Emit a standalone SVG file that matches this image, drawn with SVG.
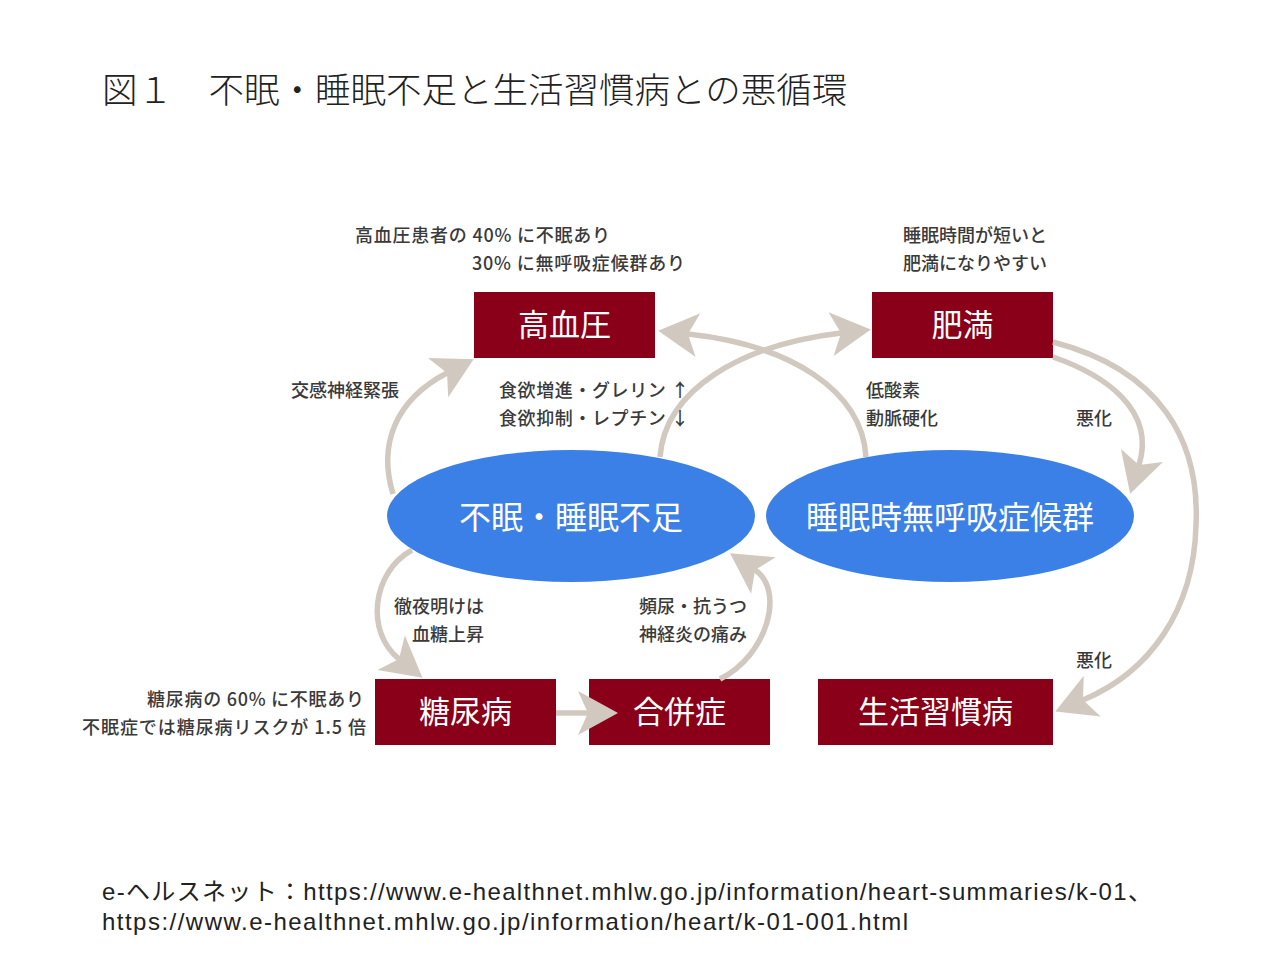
<svg xmlns="http://www.w3.org/2000/svg" width="1280" height="960" viewBox="0 0 1280 960">
<style>
.box{fill:#8a0018}
.ell{fill:#3b80e6}
.bt{fill:#fff;font-family:"Noto Sans CJK JP","Noto Sans",sans-serif;font-size:31px;text-anchor:middle}
.et{fill:#fff;font-family:"Noto Sans CJK JP","Noto Sans",sans-serif;font-size:32px;text-anchor:middle}
.lb{fill:#3a3a3a;font-family:"Noto Sans CJK JP","Noto Sans",sans-serif;font-size:18px;font-weight:500}
.rt{text-anchor:end}
.con{fill:none;stroke:#d1c9bf;stroke-width:5.5;marker-end:url(#ah)}
.ttl{fill:#222;font-family:"Noto Sans CJK JP","Noto Sans",sans-serif;font-size:35.5px;font-weight:300}
.ft{fill:#222;font-family:"Liberation Sans","Noto Sans CJK JP",sans-serif;font-size:24px}
</style>
<defs>
<marker id="ah" markerUnits="userSpaceOnUse" orient="auto" refX="0" refY="0" markerWidth="80" markerHeight="80" overflow="visible">
<path d="M30,0 L-10,-22 L0,0 L-10,22 Z" fill="#d1c9bf"/>
</marker>
</defs>
<rect width="1280" height="960" fill="#fff"/>
<text class="ttl" x="102" y="103">図１　不眠・睡眠不足と生活習慣病との悪循環</text>

<g id="label-top-left">
<text class="lb" x="355" y="242" textLength="255">高血圧患者の 40% に不眠あり</text>
<text class="lb" x="472" y="270" textLength="213">30% に無呼吸症候群あり</text>
</g>
<g id="label-top-right">
<text class="lb" x="903" y="242">睡眠時間が短いと</text>
<text class="lb" x="903" y="270">肥満になりやすい</text>
</g>

<g id="node-hypertension"><rect class="box" x="474" y="292" width="181" height="66"/><text class="bt" x="564.5" y="336">高血圧</text></g>
<g id="node-obesity"><rect class="box" x="872" y="292" width="181" height="66"/><text class="bt" x="962.5" y="336">肥満</text></g>
<g id="node-insomnia"><ellipse class="ell" cx="571" cy="516" rx="184" ry="66"/><text class="et" x="571" y="529">不眠・睡眠不足</text></g>
<g id="node-apnea"><ellipse class="ell" cx="950" cy="516" rx="184" ry="66"/><text class="et" x="950" y="529">睡眠時無呼吸症候群</text></g>
<g id="node-diabetes"><rect class="box" x="375" y="679" width="181" height="66"/><text class="bt" x="465.5" y="723">糖尿病</text></g>
<g id="node-complication"><rect class="box" x="589" y="679" width="181" height="66"/><text class="bt" x="679.5" y="723">合併症</text></g>
<g id="node-lifestyle"><rect class="box" x="818" y="679" width="235" height="66"/><text class="bt" x="935.5" y="723">生活習慣病</text></g>

<g id="connectors">
<path class="con" d="M393 494 C378 445 395 400 447 373"/>
<path class="con" d="M660 457 C665 390 740 345 841 333"/>
<path class="con" d="M866 457 C862 390 790 345 688 334"/>
<path class="con" d="M1053 357 C1105 375 1156 410 1139 465"/>
<path class="con" d="M1053 342 C1160 370 1200 440 1196 525 C1194 610 1150 672 1083 700"/>
<path class="con" d="M412 550 C372 572 365 632 399 659"/>
<path class="con" d="M556 713 L588 713"/>
<path class="con" d="M720 679 C768 655 785 590 755 570"/>
</g>

<g id="edge-labels">
<text class="lb" x="291" y="397">交感神経緊張</text>
<text class="lb" x="499" y="397" textLength="190">食欲増進・グレリン ↑</text>
<text class="lb" x="499" y="425" textLength="190">食欲抑制・レプチン ↓</text>
<text class="lb" x="866" y="397">低酸素</text>
<text class="lb" x="866" y="425">動脈硬化</text>
<text class="lb" x="1076" y="425">悪化</text>
<text class="lb rt" x="484" y="613">徹夜明けは</text>
<text class="lb rt" x="484" y="641">血糖上昇</text>
<text class="lb" x="639" y="613">頻尿・抗うつ</text>
<text class="lb" x="639" y="641">神経炎の痛み</text>
<text class="lb" x="1076" y="667">悪化</text>
<text class="lb rt" x="364" y="706" textLength="217">糖尿病の 60% に不眠あり</text>
<text class="lb rt" x="366" y="734" textLength="284">不眠症では糖尿病リスクが 1.5 倍</text>
</g>

<text class="ft" x="102" y="900" textLength="1050">e-ヘルスネット：https://www.e-healthnet.mhlw.go.jp/information/heart-summaries/k-01、</text>
<text class="ft" x="102" y="930" textLength="806">https://www.e-healthnet.mhlw.go.jp/information/heart/k-01-001.html</text>
</svg>
